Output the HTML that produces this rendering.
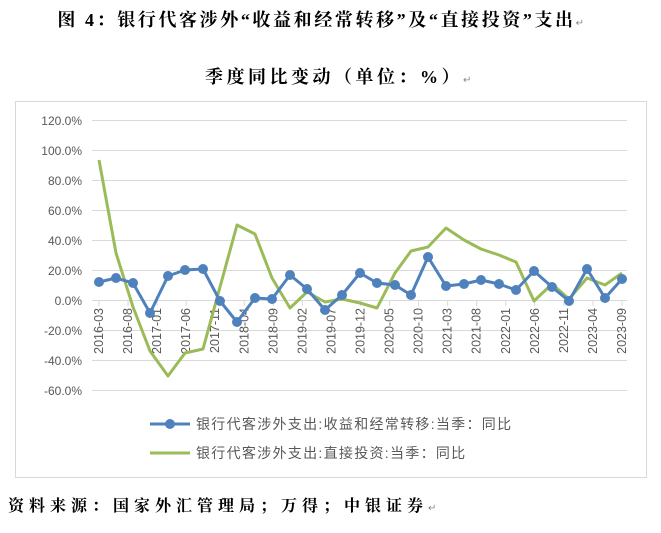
<!DOCTYPE html>
<html><head><meta charset="utf-8"><style>
body{margin:0;background:#fff;width:661px;height:533px;overflow:hidden}
svg{display:block}
</style></head><body>
<svg width="661" height="533" xmlns="http://www.w3.org/2000/svg" font-family="Liberation Sans, Noto Sans CJK SC, sans-serif">
<text x="322" y="26" text-anchor="middle" font-family="Liberation Serif, Noto Serif CJK SC, serif" font-size="18" fill="#000" font-weight="bold" letter-spacing="2.6">图 4：银行代客涉外“收益和经常转移”及“直接投资”支出<tspan font-size="10" fill="#888" font-weight="normal">↵</tspan></text>
<text x="340" y="83" text-anchor="middle" font-family="Liberation Serif, Noto Serif CJK SC, serif" font-size="18" fill="#000" font-weight="bold" letter-spacing="3.5">季度同比变动（单位：%）<tspan font-size="10" fill="#888" font-weight="normal">↵</tspan></text>
<rect x="15.5" y="101.5" width="631" height="376" fill="#fff" stroke="#d9d9d9"/>
<g stroke="#d9d9d9" stroke-width="1">
<line x1="92" x2="627" y1="120.5" y2="120.5"/><line x1="92" x2="627" y1="150.5" y2="150.5"/>
<line x1="92" x2="627" y1="180.5" y2="180.5"/><line x1="92" x2="627" y1="210.5" y2="210.5"/>
<line x1="92" x2="627" y1="240.5" y2="240.5"/><line x1="92" x2="627" y1="270.5" y2="270.5"/>
<line x1="92" x2="627" y1="300.5" y2="300.5"/><line x1="92" x2="627" y1="330.5" y2="330.5"/>
<line x1="92" x2="627" y1="360.5" y2="360.5"/><line x1="92" x2="627" y1="390.5" y2="390.5"/>
</g>
<g font-size="12" fill="#595959" text-anchor="end">
<text x="82" y="125">120.0%</text><text x="82" y="155">100.0%</text><text x="82" y="185">80.0%</text>
<text x="82" y="215">60.0%</text><text x="82" y="245">40.0%</text><text x="82" y="275">20.0%</text>
<text x="82" y="305">0.0%</text><text x="82" y="335">-20.0%</text><text x="82" y="365">-40.0%</text>
<text x="82" y="395">-60.0%</text>
</g>
<g font-size="12.5" fill="#595959" text-anchor="end" id="xl"></g>
<polyline fill="none" stroke="#9bbb59" stroke-width="3" stroke-linejoin="round" points="99,160 116,253 133,307 150,351 168,376 185,353 203,349 220,287 237,225 255,234 272,278 290,308 307,292 325,302 342,299 360,303 377,308 395,273 411,251 428,247 446,228 464,240 481,249 499,255 516,262 534,301 552,284 569,299 587,278 605,285 622,273"/>
<polyline id="bl" fill="none" stroke="#4f81bd" stroke-width="3" stroke-linejoin="round" points="99,282 116,278 133,283 150,313 168,276 185,270 203,269 220,301 237,322 255,298 272,299 290,275 307,289 325,310 342,295 360,273 377,283 395,285 411,295 428,257 446,286 464,284 481,280 499,284 516,290 534,271 552,287 569,301 587,269 605,298 622,279"/>
<g id="dots" fill="#4f81bd"></g>
<line x1="150" x2="190" y1="424" y2="424" stroke="#4f81bd" stroke-width="3"/><circle cx="170" cy="424" r="5" fill="#4f81bd"/>
<text x="196" y="429" font-size="14" fill="#595959" letter-spacing="1.3">银行代客涉外支出:收益和经常转移:当季：同比</text>
<line x1="150" x2="190" y1="453" y2="453" stroke="#9bbb59" stroke-width="3"/>
<text x="196" y="458" font-size="14" fill="#595959" letter-spacing="1.3">银行代客涉外支出:直接投资:当季：同比</text>
<text x="8" y="511" font-family="Liberation Serif, Noto Serif CJK SC, serif" font-size="16" font-weight="bold" fill="#000" letter-spacing="5">资料来源：国家外汇管理局；万得；中银证券<tspan font-size="10" fill="#888" font-weight="normal">↵</tspan></text>
</svg>
<script>
var labs=["2016-03","2016-08","2017-01","2017-06","2017-11","2018-04","2018-09","2019-02","2019-07","2019-12","2020-05","2020-10","2021-03","2021-08","2022-01","2022-06","2022-11","2023-04","2023-09"];
var g=document.getElementById('xl'),ns="http://www.w3.org/2000/svg";
labs.forEach(function(l,i){var x=99+i*5*(523/90);var t=document.createElementNS(ns,'text');t.setAttribute('transform','translate('+(x+4)+',308) rotate(-90)');t.textContent=l;g.appendChild(t);
var tk=document.createElementNS(ns,'line');tk.setAttribute('x1',x);tk.setAttribute('x2',x);tk.setAttribute('y1',301);tk.setAttribute('y2',306);tk.setAttribute('stroke','#d9d9d9');g.parentNode.insertBefore(tk,g);});
var pts=document.getElementById('bl').getAttribute('points').trim().split(' '),d=document.getElementById('dots');
pts.forEach(function(p){var a=p.split(',');var c=document.createElementNS(ns,'circle');c.setAttribute('cx',a[0]);c.setAttribute('cy',a[1]);c.setAttribute('r',5);d.appendChild(c);});
</script>
</body></html>
